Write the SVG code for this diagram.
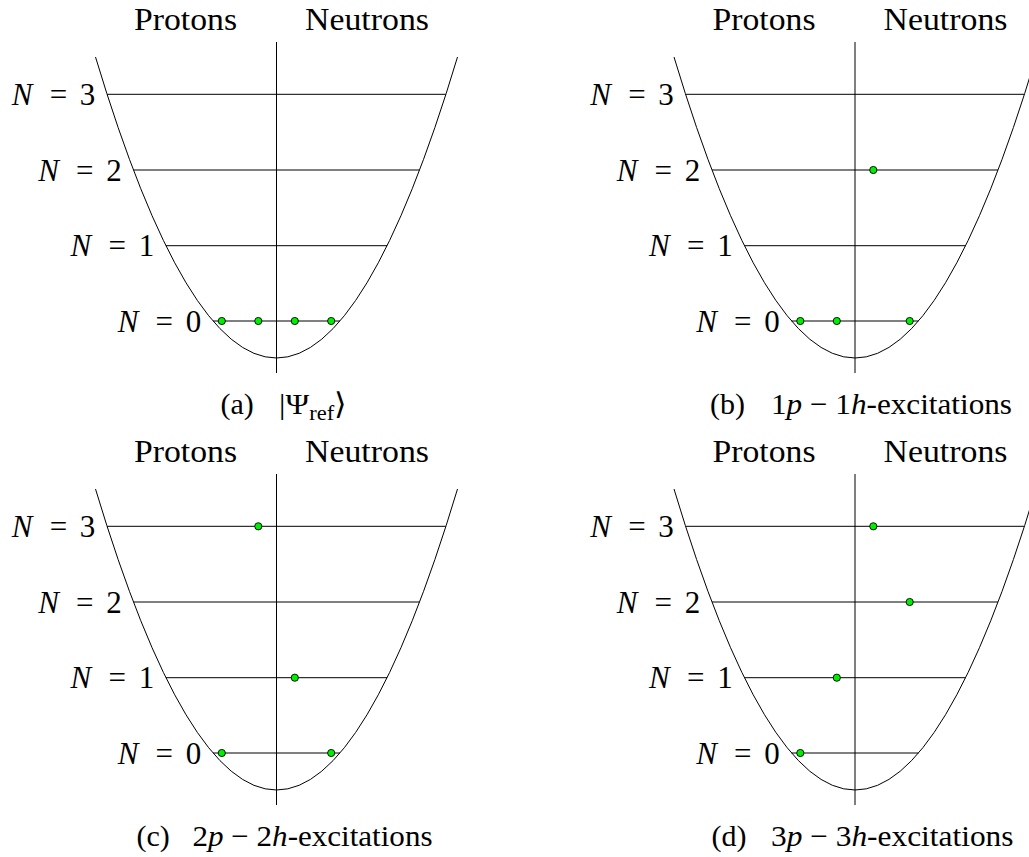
<svg xmlns="http://www.w3.org/2000/svg" xmlns:xlink="http://www.w3.org/1999/xlink" width="1029" height="857" viewBox="0 0 1029 857">
  <style>
    .ln { stroke: #000; stroke-width: 1; fill: none; }
    .t { font-family: "Liberation Serif", "Times New Roman", serif; fill: #000; }
    .hd { font-size: 32px; }
    .lb { font-size: 31px; }
    .cap { font-size: 30px; }
    .it { font-style: italic; }
    .dot { fill: #00ee00; stroke: #000; stroke-width: 0.9; }
  </style>
  <defs>
    <g id="frame">
      <text class="t hd" x="134" y="29.5" textLength="103" lengthAdjust="spacingAndGlyphs">Protons</text>
      <text class="t hd" x="305" y="29.5" textLength="124" lengthAdjust="spacingAndGlyphs">Neutrons</text>
      <line class="ln" x1="276.5" y1="42" x2="276.5" y2="373"/>
      <path class="ln" d="M 95.5 57 Q 276.5 659 457.5 57"/>
      <line class="ln" x1="107.1" y1="94.3" x2="445.9" y2="94.3"/>
      <line class="ln" x1="133.5" y1="170" x2="419.5" y2="170"/>
      <line class="ln" x1="165.9" y1="245.7" x2="387.1" y2="245.7"/>
      <line class="ln" x1="213" y1="321" x2="340" y2="321"/>
      <g class="t lb">
        <text x="11.8" y="104.8" class="it">N</text>
        <text x="58.4" y="104.8" text-anchor="middle">=</text>
        <text x="87.6" y="104.8" text-anchor="middle">3</text>
      </g>
      <g class="t lb">
        <text x="38.2" y="180.5" class="it">N</text>
        <text x="84.8" y="180.5" text-anchor="middle">=</text>
        <text x="114" y="180.5" text-anchor="middle">2</text>
      </g>
      <g class="t lb">
        <text x="70.6" y="256.2" class="it">N</text>
        <text x="117.2" y="256.2" text-anchor="middle">=</text>
        <text x="146.4" y="256.2" text-anchor="middle">1</text>
      </g>
      <g class="t lb">
        <text x="117.7" y="331.5" class="it">N</text>
        <text x="164.3" y="331.5" text-anchor="middle">=</text>
        <text x="193.5" y="331.5" text-anchor="middle">0</text>
      </g>
    </g>
  </defs>

  <g id="panel-a">
    <use xlink:href="#frame" href="#frame"/>
    <circle class="dot" cx="221.8" cy="321" r="3.6"/>
    <circle class="dot" cx="258.3" cy="321" r="3.6"/>
    <circle class="dot" cx="294.8" cy="321" r="3.6"/>
    <circle class="dot" cx="331.2" cy="321" r="3.6"/>
    <text class="t cap" x="220.5" y="413.5">(a)</text>
    <text class="t cap" x="279" y="413.5" textLength="68" lengthAdjust="spacingAndGlyphs">|Ψ<tspan font-size="21" dy="6">ref</tspan><tspan dy="-6">⟩</tspan></text>
  </g>

  <g id="panel-b">
    <use xlink:href="#frame" href="#frame" transform="translate(578.5,0)"/>
    <circle class="dot" cx="800.3" cy="321" r="3.6"/>
    <circle class="dot" cx="836.8" cy="321" r="3.6"/>
    <circle class="dot" cx="909.7" cy="321" r="3.6"/>
    <circle class="dot" cx="873.3" cy="170" r="3.6"/>
    <text class="t cap" x="710" y="414">(b)</text>
    <text class="t cap" x="771" y="414" textLength="241" lengthAdjust="spacingAndGlyphs">1<tspan class="it">p</tspan> − 1<tspan class="it">h</tspan>-excitations</text>
  </g>

  <g id="panel-c">
    <use xlink:href="#frame" href="#frame" transform="translate(0,432)"/>
    <circle class="dot" cx="258.3" cy="526.3" r="3.6"/>
    <circle class="dot" cx="294.8" cy="677.7" r="3.6"/>
    <circle class="dot" cx="221.8" cy="753" r="3.6"/>
    <circle class="dot" cx="331.2" cy="753" r="3.6"/>
    <text class="t cap" x="136.5" y="846">(c)</text>
    <text class="t cap" x="192.5" y="846" textLength="240" lengthAdjust="spacingAndGlyphs">2<tspan class="it">p</tspan> − 2<tspan class="it">h</tspan>-excitations</text>
  </g>

  <g id="panel-d">
    <use xlink:href="#frame" href="#frame" transform="translate(578.5,432)"/>
    <circle class="dot" cx="873.3" cy="526.3" r="3.6"/>
    <circle class="dot" cx="909.7" cy="602" r="3.6"/>
    <circle class="dot" cx="836.8" cy="677.7" r="3.6"/>
    <circle class="dot" cx="800.3" cy="753" r="3.6"/>
    <text class="t cap" x="711.5" y="846">(d)</text>
    <text class="t cap" x="771" y="846" textLength="242.5" lengthAdjust="spacingAndGlyphs">3<tspan class="it">p</tspan> − 3<tspan class="it">h</tspan>-excitations</text>
  </g>
</svg>
